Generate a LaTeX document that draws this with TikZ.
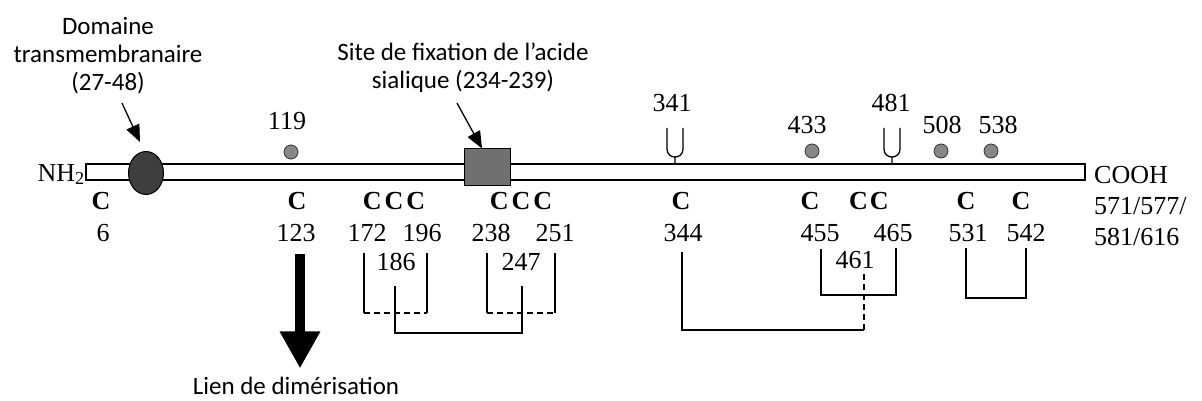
\documentclass[tikz,border=0pt]{standalone}
\usepackage{fontspec}
\setmainfont{Liberation Serif}
\newfontfamily\labelfont{Carlito}
\usetikzlibrary{arrows.meta,positioning,shapes.geometric,calc}
\definecolor{tmgray}{RGB}{62,62,62}
\definecolor{sitegray}{RGB}{112,112,112}
\definecolor{dotgray}{RGB}{135,135,135}

\begin{document}
\begin{tikzpicture}[
  x=1pt, y=-1pt,
  every node/.style={font=\fontsize{26}{30}\selectfont, inner sep=0pt},
  lbl/.style={font=\labelfont\fontsize{25}{28}\selectfont, align=center},
  cys/.style={font=\bfseries\fontsize{26}{30}\selectfont, anchor=base},
  num/.style={anchor=base},
  bond/.style={line width=1.4pt},
  pointer/.style={line width=1.3pt, -{Triangle[length=17pt,width=14pt]}},
  fat/.style={line width=10pt, -{Triangle[length=37pt,width=38pt]}},
  glyco/.style={line width=1.3pt},
  dot/.style={circle, draw=black!80, fill=dotgray, line width=0.8pt, minimum size=14pt}
]
\useasboundingbox (0,0) rectangle (1202,401);

% --- Chaîne polypeptidique ---

% Barre principale
\node[
  draw,
  line width=1.4pt,
  fill=white,
  minimum width=999pt,
  minimum height=16pt
] (chain) at (585.5,172) {};

% Extrémités
\node[num, anchor=base east] (nh) at (85,181) {NH\textsubscript{2}};
\node[anchor=north west, align=left, font=\fontsize{26}{31}\selectfont] (cooh) at (1094,166) {COOH\\571/577/\\581/616};

% Domaine transmembranaire
\node[
  ellipse,
  draw,
  line width=1pt,
  fill=tmgray,
  minimum width=35pt,
  minimum height=43pt
] (tmd) at (146,173) {};

% Site de fixation
\node[
  draw,
  line width=1pt,
  fill=sitegray,
  minimum width=46pt,
  minimum height=36pt
] (site) at (487,167) {};

% --- Étiquettes du haut ---
\node[lbl, anchor=north] (tmlabel) at (108,17) {Domaine\\transmembranaire\\(27-48)};
\node[lbl, anchor=north] (sitelabel) at (463,43) {Site de fixation de l’acide\\sialique (234-239)};

\draw[pointer] ([xshift=14pt,yshift=-9pt]tmlabel.south) -- ([xshift=-6pt,yshift=9pt]tmd.north);
\draw[pointer] ([xshift=-6pt,yshift=-10pt]sitelabel.south) -- ([xshift=-5pt]site.north);

% Glycosylations
\foreach \gx in {675,892}
  \draw[glyco] (\gx-8,128) -- (\gx-8,149) .. controls (\gx-8,159.7) and (\gx+8,159.7) .. (\gx+8,149) -- (\gx+8,128)
    (\gx,157) -- (\gx,164);
\node[num] (l341) at (672,112) {341};
\node[num] (l481) at (891,112) {481};

% Points
\node[dot] (d119) at (291,152) {};
\node[dot] (d433) at (812,151) {};
\node[dot] (d508) at (941,151) {};
\node[dot] (d538) at (991,151) {};
\node[num] (l119) at (287,130) {119};
\node[num] (l433) at (807,134) {433};
\node[num] (l508) at (942,134) {508};
\node[num] (l538) at (998,134) {538};

% --- Cystéines ---
\foreach \x/\t/\nm in {101/C/c6, 297/C/c123, 394/C\kern3pt C\kern3pt C/c172, 521/C\kern3pt C\kern3pt C/c238,
                      681/C/c344, 810/C/c455, 869/C\kern2pt C/c461, 966/C/c531, 1021/C/c542}
  \node[cys] (\nm) at (\x,209) {\t};

\foreach \x/\n in {103/6, 296/123, 367/172, 422/196, 491/238, 555/251, 683/344,
                   820/455, 893/465, 968/531, 1026/542}
  \node[num] (n\n) at (\x,241) {\n};

\node[num] (n186) at (396,270) {186};
\node[num] (n247) at (521,270) {247};
\node[num] (n461) at (855,268) {461};

% --- Ponts disulfure ---
\coordinate (p172) at (364,253);
\coordinate (p196) at (427,253);
\coordinate (p238) at (487,253);
\coordinate (p251) at (555,253);
\coordinate (p186) at (395,286);
\coordinate (p247) at (522,286);
\coordinate (p344) at (682,252);
\coordinate (p461) at (864,270);
\coordinate (p455) at (821,249);
\coordinate (p465) at (896,248);
\coordinate (p531) at (966,248);
\coordinate (p542) at (1026,248);

% 172-196 et 238-251
\draw[bond] (p172) -- ++(0,60) coordinate (p172b);
\draw[bond] (p196) -- ++(0,60) coordinate (p196b);
\draw[bond, dash pattern=on 6pt off 4pt] (p172b) -- (p196b);
\draw[bond] (p238) -- ++(0,60) coordinate (p238b);
\draw[bond] (p251) -- ++(0,60) coordinate (p251b);
\draw[bond, dash pattern=on 6pt off 4pt] (p238b) -- (p251b);

% 186-247
\draw[bond] (p186) -- ++(0,47) -| (p247);

% 344-461
\draw[bond] (p344) -- ++(0,78) coordinate (p344b) -- (p344b -| p461);
\draw[bond, dash pattern=on 6pt off 4pt] (p344b -| p461) -- (p461);

% 455-465 et 531-542
\draw[bond] (p455) -- ++(0,46) -| (p465);
\draw[bond] (p531) -- ++(0,50) -| (p542);

% --- Dimérisation ---
\node[lbl, anchor=base] (dimer) at (296,394) {Lien de dimérisation};
\draw[fat] ([xshift=4pt,yshift=-13pt]n123.south) -- ([xshift=4pt,yshift=8pt]dimer.north);

\end{tikzpicture}
\end{document}
